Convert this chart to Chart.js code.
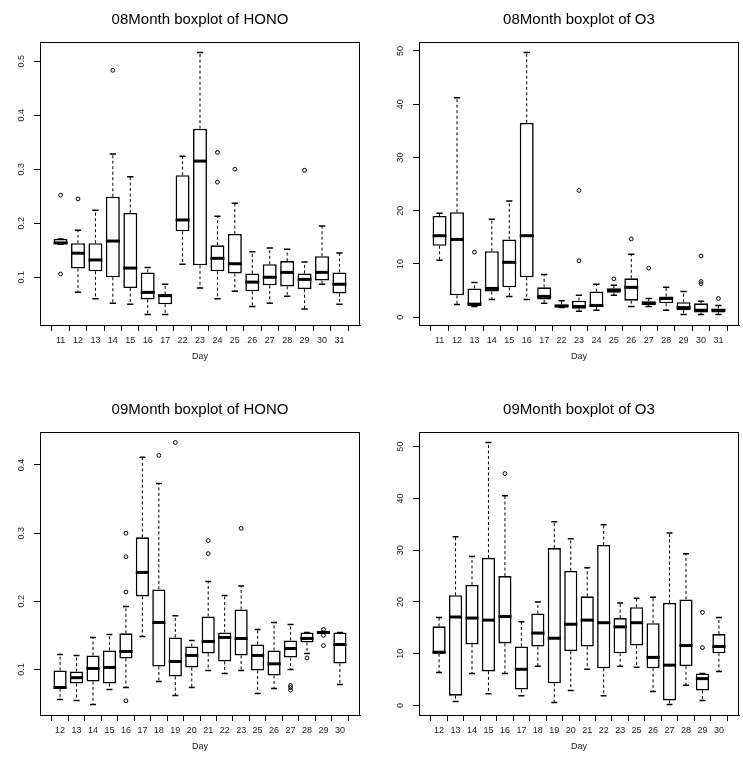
<!DOCTYPE html>
<html><head><meta charset="utf-8">
<script src="https://cdn.jsdelivr.net/npm/chart.js@4"></script>
<style>
html,body{margin:0;padding:0;background:#fff;overflow:hidden;width:743px;height:757px;}
.p{position:absolute;width:371px;height:378px;}
canvas{display:block;}
</style></head><body>
<div class="p" style="left:0;top:0"><canvas id="c1" width="371" height="378"></canvas></div>
<div class="p" style="left:372px;top:0"><canvas id="c2" width="371" height="378"></canvas></div>
<div class="p" style="left:0;top:390px"><canvas id="c3" width="371" height="378"></canvas></div>
<div class="p" style="left:372px;top:390px"><canvas id="c4" width="371" height="378"></canvas></div>
<script>
// ---------- August (08) days ----------
const days08 = ["11","12","13","14","15","16","17","22","23","24","25","26","27","28","29","30","31"];
// HONO, August
const hono08Low  = [0.161,0.072,0.060,0.052,0.050,0.031,0.031,0.124,0.080,0.060,0.074,0.046,0.052,0.065,0.041,0.087,0.050];
const hono08Q1   = [0.161,0.116,0.111,0.100,0.080,0.059,0.050,0.185,0.122,0.111,0.107,0.074,0.085,0.083,0.078,0.094,0.070];
const hono08Med  = [0.1635,0.1445,0.132,0.167,0.117,0.072,0.066,0.206,0.315,0.135,0.125,0.091,0.100,0.109,0.096,0.109,0.087];
const hono08Q3   = [0.1708,0.163,0.163,0.249,0.219,0.109,0.068,0.289,0.375,0.159,0.180,0.107,0.124,0.130,0.107,0.139,0.109];
const hono08High = [0.1708,0.187,0.224,0.328,0.286,0.118,0.087,0.324,0.516,0.213,0.237,0.147,0.154,0.152,0.128,0.195,0.145];
const hono08Out  = [[0.252,0.106],[0.245],[],[0.483],[],[],[],[],[],[0.331,0.276],[0.300],[],[],[],[0.298],[],[]];
const hono08Ticks = [0.1,0.2,0.3,0.4,0.5];
const hono08TickLabels = ["0.1","0.2","0.3","0.4","0.5"];
// O3, August
const o308Low  = [10.7,2.4,2.0,3.3,3.9,3.3,2.6,1.8,1.1,1.3,4.1,2.0,2.0,1.3,0.5,0.5,0.5];
const o308Q1   = [13.4,4.1,2.1,4.8,5.6,7.5,3.3,1.8,1.6,1.9,4.6,3.1,2.3,2.6,1.3,0.9,0.9];
const o308Med  = [15.3,14.6,2.45,5.4,10.3,15.3,3.9,2.1,2.0,2.2,5.1,5.6,2.6,3.5,1.8,1.3,1.3];
const o308Q3   = [19.0,19.7,5.4,12.4,14.6,36.5,5.6,2.4,3.1,4.8,5.4,7.3,3.0,3.9,2.8,2.6,1.6];
const o308High = [19.5,41.2,6.5,18.4,21.8,49.7,8.0,3.1,4.1,6.2,6.0,11.8,3.5,5.6,4.8,3.0,2.2];
const o308Out  = [[],[],[12.2],[],[],[],[],[],[23.8,10.6],[],[7.2],[14.7],[9.2],[],[],[11.5,6.7,6.3],[3.5]];
const o3Ticks = [0,10,20,30,40,50];
const o3TickLabels = ["0","10","20","30","40","50"];
// ---------- September (09) days ----------
const days09 = ["12","13","14","15","16","17","18","19","20","21","22","23","25","26","27","28","29","30"];
// HONO, September
const hono09Low  = [0.056,0.0545,0.0486,0.0706,0.0736,0.1485,0.0824,0.0618,0.0736,0.0985,0.094,0.0985,0.0648,0.072,0.100,0.1235,0.153,0.078];
const hono09Q1   = [0.072,0.0794,0.0824,0.0794,0.116,0.2072,0.1044,0.0897,0.103,0.1235,0.1117,0.1206,0.0985,0.0912,0.1176,0.1396,0.153,0.1088];
const hono09Med  = [0.0736,0.088,0.1015,0.103,0.1264,0.2424,0.169,0.1117,0.1206,0.1411,0.147,0.1455,0.1206,0.1083,0.1308,0.1455,0.1543,0.1367];
const hono09Q3   = [0.0985,0.097,0.1206,0.128,0.153,0.2938,0.2175,0.147,0.1338,0.1778,0.1543,0.188,0.1367,0.128,0.1426,0.1543,0.1558,0.1543];
const hono09High = [0.122,0.1206,0.147,0.1514,0.1925,0.4113,0.373,0.179,0.1426,0.229,0.2087,0.2224,0.1587,0.169,0.166,0.1543,0.1558,0.1543];
const hono09Out  = [[],[],[],[],[0.300,0.2654,0.2136,0.054],[],[0.414],[0.433],[],[0.289,0.270],[],[0.307],[],[],[0.0765,0.0736,0.0697],[0.117],[0.1587,0.150,0.135],[]];
const hono09Ticks = [0.1,0.2,0.3,0.4];
const hono09TickLabels = ["0.1","0.2","0.3","0.4"];
// O3, September
const o309Low  = [6.4,0.8,6.2,2.3,6.2,1.9,7.6,0.6,2.9,7.0,1.9,7.6,7.4,2.7,0.2,3.9,1.0,6.6];
const o309Q1   = [10.0,1.9,11.8,6.6,12.0,3.1,11.4,4.3,10.5,11.4,7.2,10.1,11.6,7.2,1.0,7.6,2.9,10.1];
const o309Med  = [10.3,17.1,16.9,16.5,17.2,7.0,14.0,13.0,15.7,16.5,16.0,15.2,16.0,9.3,7.8,11.6,5.2,11.4];
const o309Q3   = [15.3,21.3,23.3,28.5,25.0,11.4,17.8,30.4,26.0,21.1,31.0,16.9,19.0,15.9,19.8,20.5,6.2,13.8];
const o309High = [17.0,32.6,28.8,50.8,40.5,16.2,20.0,35.5,32.2,26.6,34.9,19.8,20.7,20.9,33.3,29.3,6.2,17.0];
const o309Out  = [[],[],[],[],[44.8],[],[],[],[],[],[],[],[],[],[],[],[18.0,11.2],[]];

Chart.defaults.font.family = "'Liberation Sans', Arial, Helvetica, sans-serif";
Chart.defaults.color = '#222';

function makeChart(id, cfg) {
  const {title, cats, low, q1, med, q3, high, outs, yTicks, yLabels, leftW, rightPad} = cfg;
  const n = cats.length;
  const allVals = low.concat(high, outs.flat());
  const lo = Math.min(...allVals), hi = Math.max(...allVals);
  const ext = (hi - lo) * 0.04;
  const xExt = n * 0.04;

  const boxPlugin = {
    id: 'boxes_' + id,
    afterDatasetsDraw(chart) {
      const {ctx, chartArea: ca, scales: {x, y}} = chart;
      const unit = x.getPixelForValue(2) - x.getPixelForValue(1);
      const half = unit * 0.4, cap = unit * 0.18;
      ctx.save();
      ctx.strokeStyle = '#000';
      for (let i = 0; i < n; i++) {
        const xc = x.getPixelForValue(i + 1);
        const yL = y.getPixelForValue(low[i]), yQ1 = y.getPixelForValue(q1[i]);
        const yQ3 = y.getPixelForValue(q3[i]), yH = y.getPixelForValue(high[i]);
        const yM = y.getPixelForValue(med[i]);
        // dashed whiskers
        ctx.lineWidth = 1;
        ctx.setLineDash([3, 2.5]);
        ctx.beginPath();
        if (yH < yQ3 - 0.5) { ctx.moveTo(xc, yQ3); ctx.lineTo(xc, yH); }
        if (yL > yQ1 + 0.5) { ctx.moveTo(xc, yQ1); ctx.lineTo(xc, yL); }
        ctx.stroke();
        // caps
        ctx.setLineDash([]);
        ctx.lineWidth = 1.5;
        ctx.beginPath();
        ctx.moveTo(xc - cap, yH); ctx.lineTo(xc + cap, yH);
        ctx.moveTo(xc - cap, yL); ctx.lineTo(xc + cap, yL);
        ctx.stroke();
        // median
        ctx.lineWidth = 3;
        ctx.beginPath();
        ctx.moveTo(xc - half, yM); ctx.lineTo(xc + half, yM);
        ctx.stroke();
      }
      // frame
      ctx.lineWidth = 1;
      ctx.strokeRect(Math.round(ca.left) + 0.5, Math.round(ca.top) + 0.5,
                     Math.round(ca.right - ca.left) - 1, Math.round(ca.bottom - ca.top));
      // rotated y tick labels
      ctx.fillStyle = '#222';
      ctx.font = "9px 'Liberation Sans', Arial, sans-serif";
      ctx.textAlign = 'center';
      ctx.textBaseline = 'middle';
      yTicks.forEach((v, k) => {
        const py = y.getPixelForValue(v);
        ctx.save();
        ctx.translate(ca.left - 18, py);
        ctx.rotate(-Math.PI / 2);
        ctx.fillText(yLabels[k], 0, 0);
        ctx.restore();
      });
      ctx.restore();
    }
  };

  const outData = [];
  outs.forEach((arr, i) => arr.forEach(v => outData.push({x: i + 1, y: v})));

  return new Chart(document.getElementById(id), {
    type: 'bar',
    data: {
      datasets: [
        {
          type: 'bar',
          data: cats.map((c, i) => ({x: i + 1, y: [q1[i], q3[i]]})),
          backgroundColor: '#fff',
          borderColor: '#000',
          borderWidth: 1.6,
          borderSkipped: false,
          barPercentage: 0.8,
          categoryPercentage: 1,
          grouped: false
        },
        {
          type: 'scatter',
          data: outData,
          pointRadius: 1.9,
          pointBorderWidth: 1,
          pointBackgroundColor: 'rgba(0,0,0,0)',
          pointBorderColor: '#000',
          pointHoverRadius: 1.9
        }
      ]
    },
    options: {
      responsive: false,
      animation: false,
      events: [],
      layout: {padding: {left: 0, right: rightPad, top: 0, bottom: 0}},
      plugins: {
        legend: {display: false},
        tooltip: {enabled: false},
        title: {
          display: true, text: title, fullSize: false,
          color: '#000',
          font: {size: 15, weight: 'normal'},
          padding: {top: 11, bottom: 13}
        }
      },
      scales: {
        x: {
          type: 'linear',
          min: 0.5 - xExt, max: n + 0.5 + xExt,
          offset: false,
          afterBuildTicks: s => { s.ticks = cats.map((c, i) => ({value: i + 1})); },
          afterFit: s => { s.height = 53; },
          ticks: {
            autoSkip: false, maxRotation: 0, minRotation: 0,
            font: {size: 9}, color: '#222', padding: 4,
            callback: v => cats[v - 1]
          },
          grid: {display: true, drawOnChartArea: false, drawTicks: true, tickLength: 6, color: '#000', lineWidth: 1},
          border: {display: true, color: '#000', width: 1},
          title: {display: true, text: 'Day', font: {size: 9}, color: '#222', padding: {top: 0, bottom: 16}}
        },
        y: {
          type: 'linear',
          min: lo - ext, max: hi + ext,
          afterBuildTicks: s => { s.ticks = yTicks.map(v => ({value: v})); },
          afterFit: s => { s.width = leftW; },
          ticks: {display: false},
          grid: {display: true, drawOnChartArea: false, drawTicks: true, tickLength: 6, color: '#000', lineWidth: 1},
          border: {display: true, color: '#000', width: 1}
        }
      }
    },
    plugins: [boxPlugin]
  });
}

makeChart('c1', {title: '08Month boxplot of HONO', cats: days08, low: hono08Low, q1: hono08Q1, med: hono08Med, q3: hono08Q3, high: hono08High, outs: hono08Out, yTicks: hono08Ticks, yLabels: hono08TickLabels, leftW: 40, rightPad: 11});
makeChart('c2', {title: '08Month boxplot of O3', cats: days08, low: o308Low, q1: o308Q1, med: o308Med, q3: o308Q3, high: o308High, outs: o308Out, yTicks: o3Ticks, yLabels: o3TickLabels, leftW: 47, rightPad: 4});
makeChart('c3', {title: '09Month boxplot of HONO', cats: days09, low: hono09Low, q1: hono09Q1, med: hono09Med, q3: hono09Q3, high: hono09High, outs: hono09Out, yTicks: hono09Ticks, yLabels: hono09TickLabels, leftW: 40, rightPad: 11});
makeChart('c4', {title: '09Month boxplot of O3', cats: days09, low: o309Low, q1: o309Q1, med: o309Med, q3: o309Q3, high: o309High, outs: o309Out, yTicks: o3Ticks, yLabels: o3TickLabels, leftW: 47, rightPad: 4});
</script>
</body></html>
